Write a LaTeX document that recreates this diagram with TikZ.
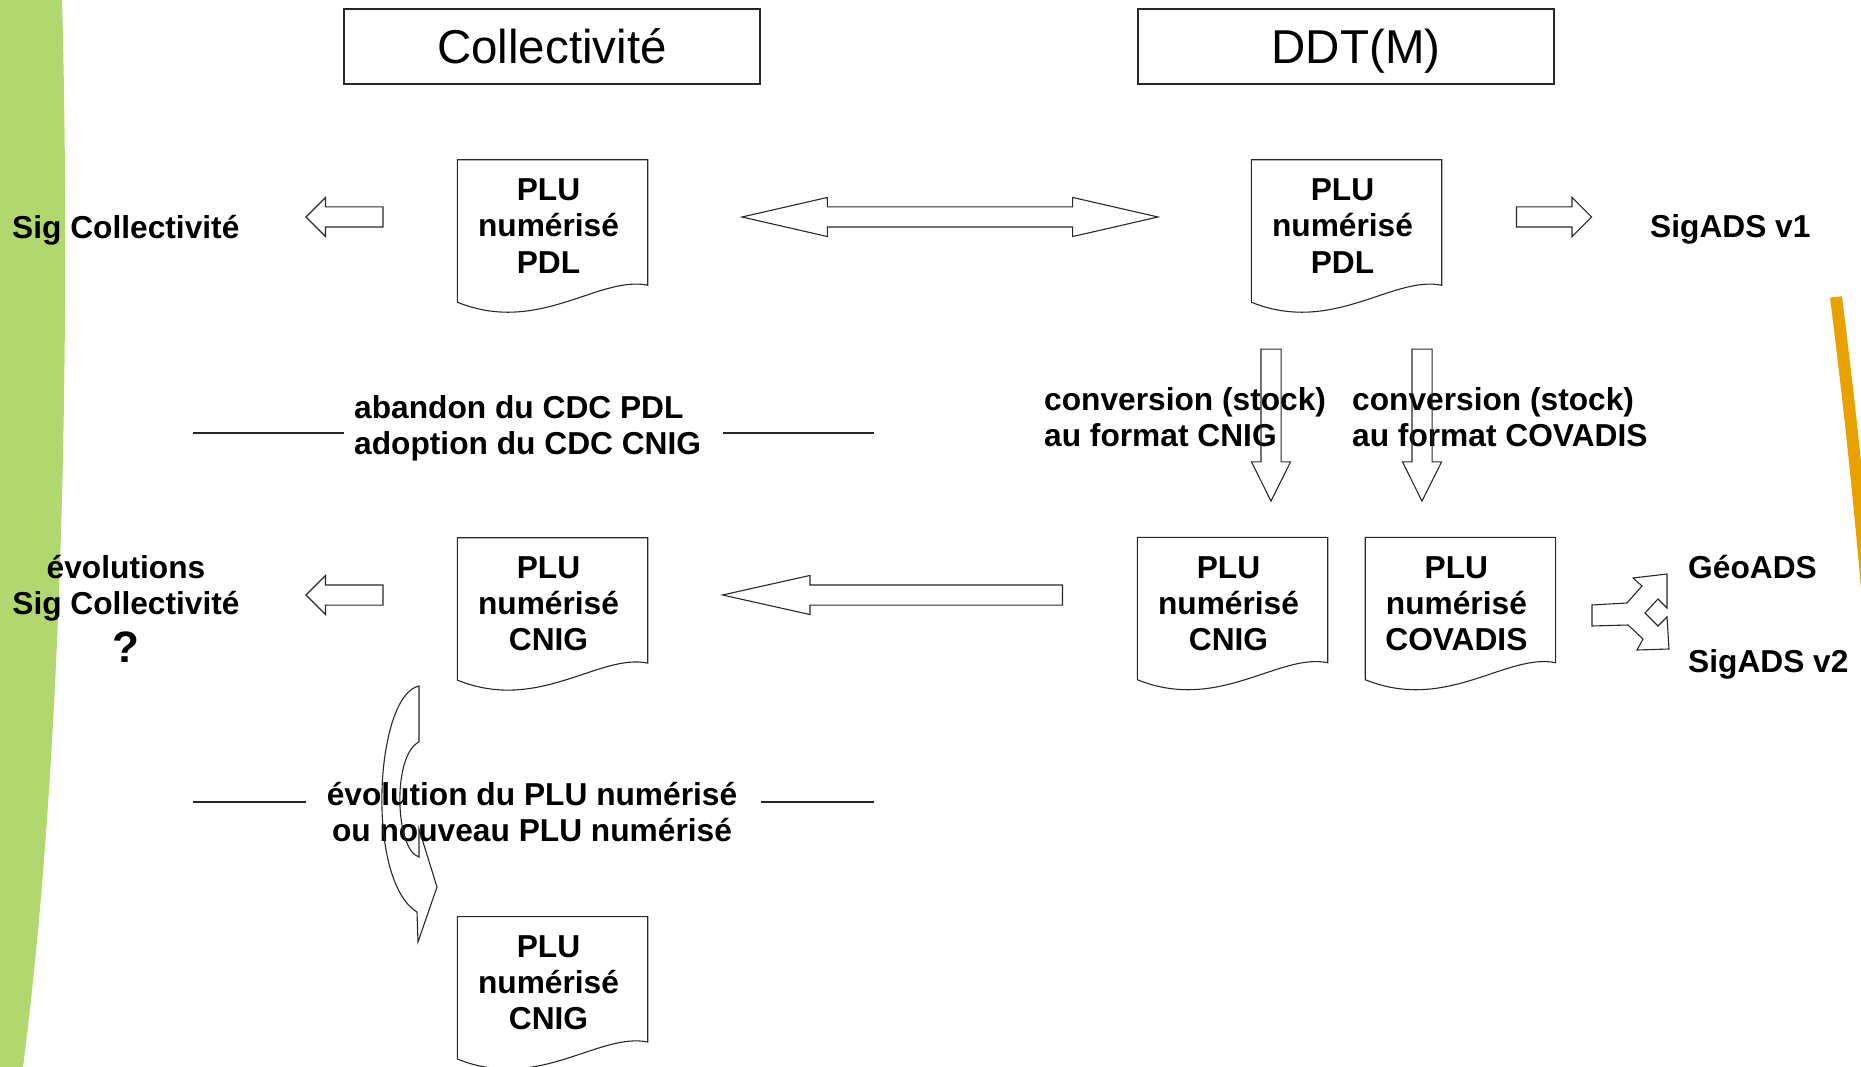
\documentclass[tikz,border=0pt]{standalone}
\usepackage{fontspec}
\setmainfont{Liberation Sans}
\usepackage{tikz}
\usetikzlibrary{positioning,shapes.arrows}

\definecolor{vertbande}{RGB}{177,216,110}
\definecolor{orangetrait}{RGB}{233,161,0}
\definecolor{trait}{RGB}{40,40,40}

\newcommand\gras{\fontsize{31.7}{36.2}\selectfont\bfseries}

\tikzset{
  titre/.style={draw=trait, line width=1.2pt, minimum width=416pt, minimum height=75pt, inner sep=0pt, text height=35pt, text depth=0pt, font=\fontsize{47.5}{50}\selectfont},
  plu/.style={minimum width=190pt, minimum height=125pt, inner sep=0pt, align=center, font=\gras},
  etiq/.style={inner sep=0pt, font=\gras},
  fleche/.style={single arrow, draw=trait, line width=1.1pt, inner sep=9.5pt, minimum width=38pt, single arrow head extend=9.5pt},
  sep/.style={draw=trait, line width=1.1pt},
}

\begin{document}
\begin{tikzpicture}[x=1pt, y=-1pt]
  \useasboundingbox (0,0) rectangle (1861,1067);
  %% bande verte et trait orange
  \fill[vertbande] (0,0) -- (62,0) .. controls (69,250) and (68,720) .. (23,1067) -- (0,1067) -- cycle;
  \begin{scope}
    \clip (0,0) rectangle (1861,1067);
    \draw[orangetrait, line width=12pt] (1836,297) .. controls (1845,370) and (1856,460) .. (1868,600);
  \end{scope}

  \node (coll) [titre] at (552,46.5) {Collectivité};
  \node (ddt) [titre] at (1346,46.5) {\hspace*{20pt}DDT(M)};

  %% documents (texte un peu a gauche et en bas du cadre)
  \node (cpdl) [plu] at (548.5,226) {PLU\\numérisé\\PDL};
  \node (dpdl) [plu] at (1342.5,226) {PLU\\numérisé\\PDL};
  \node (ccnig) [plu, below=252.5pt of cpdl] {PLU\\numérisé\\CNIG};
  \node (dcnig) [plu] at (1228.5,603.5) {PLU\\numérisé\\CNIG};
  \node (dcov) [plu, right=37.5pt of dcnig] {PLU\\numérisé\\COVADIS};
  \node (ccnig2) [plu, below=253.5pt of ccnig] {PLU\\numérisé\\CNIG};

  \foreach \d in {cpdl,dpdl,ccnig,dcnig,dcov,ccnig2}
    \draw[sep] ([shift={(4pt,-13.5pt)}]\d.south west) -- ([shift={(4pt,3.5pt)}]\d.north west)
      -- ([shift={(4pt,3.5pt)}]\d.north east) -- ([shift={(4pt,3.5pt)}]\d.south east)
      .. controls ([shift={(-45pt,13.5pt)}]\d.south east) and ([shift={(-105pt,-46.5pt)}]\d.south east)
      .. ([shift={(4pt,-13.5pt)}]\d.south west);

  \node (sigcoll) [etiq, anchor=west] at (12,230.5) {Sig Collectivité};
  \node (sigv1) [etiq, anchor=west] at (1650,229.5) {SigADS v1};
  \node (evol) [etiq, align=center] at (126,588) {évolutions\\Sig Collectivité};
  \node (quest) [etiq, font=\fontsize{44}{44}\selectfont\bfseries] at (126,647) {?};
  \node (geo) [etiq, anchor=west] at (1688,567.5) {GéoADS};
  \node (sigv2) [etiq, anchor=west] at (1688,664.5) {SigADS v2};
  \node (abandon) [etiq, align=left, anchor=west] at (354,428) {abandon du CDC PDL\\adoption du CDC CNIG};
  \node (convc) [etiq, align=left, anchor=west] at (1044,417.5) {conversion (stock)\\au format CNIG};
  \node (convv) [etiq, align=left, anchor=west] at (1352,417.5) {conversion (stock)\\au format COVADIS};
  \node (evplu) [etiq, align=center] at (532,812) {évolution du PLU numérisé\\ou nouveau PLU numérisé};

  %% traits de separation
  \draw[sep] (193,433) -- (344,433);
  \draw[sep] (723,433) -- (874,433);
  \draw[sep] (193,802) -- (306,802);
  \draw[sep] (761,802) -- (874,802);

  %% fleches
  \node (f1) [fleche, shape border rotate=180, single arrow tip angle=90, minimum height=77pt] at (349.5,217) {};
  \node (f2) [double arrow, draw=trait, line width=1.1pt, inner sep=9.5pt, minimum width=38pt, double arrow head extend=9.5pt, double arrow tip angle=25.8, minimum height=416pt] at (950,217) {};
  \node (f3) [fleche, single arrow tip angle=90, minimum height=75pt] at (1549,217) {};
  \node (f4) [fleche, shape border rotate=270, single arrow tip angle=53, minimum height=152pt] at (1271,415) {};
  \node (f5) [fleche, shape border rotate=270, single arrow tip angle=53, minimum height=152pt] at (1422,415) {};
  \node (f6) [fleche, shape border rotate=180, single arrow tip angle=25.2, minimum height=340pt] at (915,595) {};
  \node (f7) [fleche, shape border rotate=180, single arrow tip angle=90, minimum height=77pt] at (349.5,595) {};

  %% fleche courbe et fleche fourchue
  \draw[sep] (419,686) .. controls (375,695) and (365,880) .. (417,912) -- (418,942) -- (437,887) -- (419,829)
    -- (419,857) .. controls (395,850) and (392,755) .. (419,742) -- cycle;
  \draw[sep] (1592,605) -- (1627,603) -- (1642,586) -- (1633,578) -- (1667,574) -- (1667,608) -- (1658,599)
    -- (1645,613) -- (1658,626) -- (1667,617) -- (1669,649) -- (1637,650) -- (1643,639) -- (1628,625)
    -- (1592,626) -- cycle;
\end{tikzpicture}
\end{document}
